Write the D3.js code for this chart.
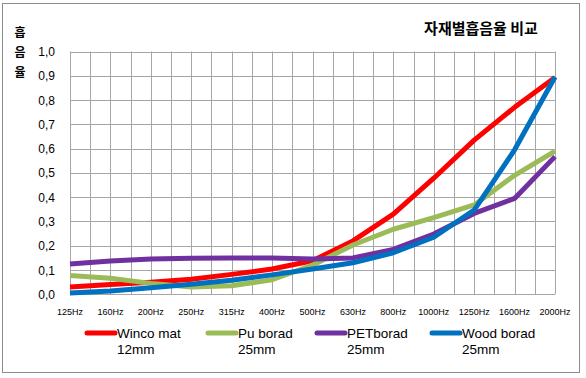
<!DOCTYPE html>
<meta charset="utf-8">
<title>자재별 흡음율 비교</title>
<style>
  body { margin: 0; background: #fff; }
  text { font-family: "Liberation Sans", Arial, sans-serif; }
  .ko { font-family: "Noto Sans CJK KR", sans-serif; font-weight: bold; }
  .grid line { stroke: #a6a6a6; stroke-width: 1; }
</style>
<body>
<svg width="586" height="378"></svg>
<script src="https://d3js.org/d3.v7.min.js"></script>
<script>
const freqs = ["125Hz","160Hz","200Hz","250Hz","315Hz","400Hz","500Hz","630Hz","800Hz","1000Hz","1250Hz","1600Hz","2000Hz"];
const wincoMat = [0.03,0.04,0.05,0.062,0.082,0.104,0.138,0.22,0.33,0.478,0.635,0.77,0.893];
const puBorad = [0.077,0.066,0.045,0.03,0.035,0.06,0.12,0.203,0.268,0.316,0.368,0.49,0.59];
const petBorad = [0.125,0.137,0.145,0.148,0.149,0.149,0.145,0.15,0.185,0.248,0.333,0.395,0.567];
const woodBorad = [0.005,0.014,0.027,0.041,0.058,0.08,0.104,0.13,0.171,0.235,0.347,0.595,0.895];
const yTicks = [0,0.1,0.2,0.3,0.4,0.5,0.6,0.7,0.8,0.9,1.0];

const series = [
  {name: ["Winco mat","12mm"], values: wincoMat, color: "#ff0000"},
  {name: ["Pu borad","25mm"], values: puBorad, color: "#9bbb59"},
  {name: ["PETborad","25mm"], values: petBorad, color: "#7030a0"},
  {name: ["Wood borad","25mm"], values: woodBorad, color: "#0070c0"}
];

const svg = d3.select("svg");

// chart frame
svg.append("rect").attr("x", 2.5).attr("y", 3.5).attr("width", 577).attr("height", 369)
  .attr("fill", "#fff").attr("stroke", "#8c8c8c");

const x = d3.scalePoint().domain(freqs).range([70, 555]);
const y = d3.scaleLinear().domain([0, 1]).range([294.3, 51.5]);

// gridlines: horizontal every 0.1, vertical every half category
const grid = svg.append("g").attr("class", "grid");
grid.selectAll(".h").data(yTicks).join("line")
  .attr("x1", 70).attr("x2", 555)
  .attr("y1", d => Math.round(y(d)) + 0.5).attr("y2", d => Math.round(y(d)) + 0.5);
const step = x.step() / 2;
grid.selectAll(".v").data(d3.range(0, freqs.length * 2 - 1)).join("line")
  .attr("x1", i => Math.round(70 + i * step) + 0.5).attr("x2", i => Math.round(70 + i * step) + 0.5)
  .attr("y1", y(1)).attr("y2", y(0));

// y axis labels
svg.append("g").selectAll("text").data(yTicks).join("text")
  .attr("x", 55).attr("y", d => y(d) + 4.5)
  .attr("text-anchor", "end").attr("font-size", 12).attr("fill", "#000")
  .text(d => d3.format(".1f")(d).replace(".", ","));

// x axis labels
svg.append("g").selectAll("text").data(freqs).join("text")
  .attr("x", d => x(d)).attr("y", 315)
  .attr("text-anchor", "middle").attr("font-size", 9).attr("fill", "#000")
  .text(d => d);

// lines
const line = d3.line().x((d, i) => x(freqs[i])).y(d => y(d));
svg.append("g").selectAll("path").data(series).join("path")
  .attr("d", d => line(d.values))
  .attr("fill", "none").attr("stroke", d => d.color)
  .attr("stroke-width", 5).attr("stroke-linejoin", "round");

// titles
svg.append("text").attr("class", "ko").attr("x", 481).attr("y", 34)
  .attr("text-anchor", "middle").attr("font-size", 15).text("자재별흡음율 비교");
svg.append("g").selectAll("text").data(["흡","음","율"]).join("text")
  .attr("class", "ko").attr("x", 20).attr("y", (d, i) => 37 + i * 20)
  .attr("text-anchor", "middle").attr("font-size", 12).text(d => d);

// legend
const legendX = [87, 208, 317, 432];
const lg = svg.append("g").selectAll("g").data(series).join("g")
  .attr("transform", (d, i) => `translate(${legendX[i]},0)`);
lg.append("line").attr("x1", 0).attr("x2", 28).attr("y1", 333).attr("y2", 333)
  .attr("stroke", d => d.color).attr("stroke-width", 5).attr("stroke-linecap", "round");
lg.append("text").attr("x", 30).attr("y", 338).attr("font-size", 13.5).text(d => d.name[0]);
lg.append("text").attr("x", 30).attr("y", 354).attr("font-size", 13.5).text(d => d.name[1]);
</script>
</body>
